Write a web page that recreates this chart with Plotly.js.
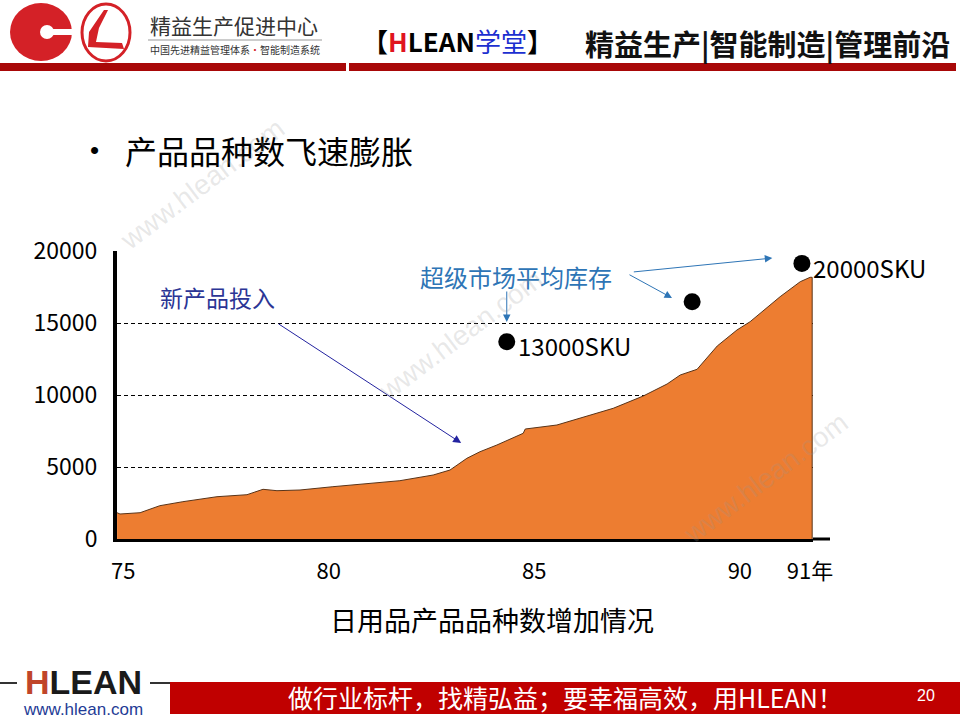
<!DOCTYPE html>
<html>
<head>
<meta charset="utf-8">
<script src="https://cdn.plot.ly/plotly-3.0.1.min.js"></script>
<style>html,body{margin:0;padding:0;background:#fff;}#chart{width:960px;height:720px;}</style>
</head>
<body>
<div id="chart"></div>
<script>
// ---- data ----
const years = [74.85, 74.92, 75.41, 75.89, 76.45, 77.28, 78.01, 78.40, 78.74, 79.30, 80.10, 80.93, 81.73, 82.54, 82.95, 83.36, 83.68, 84.09, 84.73, 84.78, 85.55, 86.92, 87.65, 88.23, 88.55, 88.96, 89.45, 89.93, 90.25, 90.98, 91.47, 91.71, 91.76, 91.76];
const skus  = [1826, 1736, 1826, 2313, 2590, 2937, 3076, 3451, 3354, 3403, 3632, 3868, 4049, 4444, 4792, 5604, 6062, 6528, 7340, 7638, 7916, 9076, 9930, 10764, 11389, 11784, 13403, 14514, 15090, 16826, 17868, 18173, 18173, 0];
const stockYears = [84.33, 88.84, 91.51];
const stockSkus  = [13700, 16480, 19140];
const stockLabels = ["13000SKU", "", "20000SKU"];
const xTickVals = [75, 80, 85, 90, 91];
const xTickText = ["75", "80", "85", "90", "91年"];
const yTickVals = [0, 5000, 10000, 15000, 20000];
const yTickText = ["0", "5000", "10000", "15000", "20000"];

// ---- geometry helpers (pixel -> paper) ----
const L = 117, R = 813, T = 251, B = 539;
const X = x => (x - L) / (R - L);
const Y = y => (B - y) / (B - T);
const P = pts => pts.map((p, i) => (i === 0 ? 'M' : 'L') + X(p[0]).toFixed(4) + ',' + Y(p[1]).toFixed(4)).join(' ') + ' Z';
const XRANGE = [74.848, 91.78];

const CJK = '"Noto Sans CJK SC", "Noto Sans", sans-serif';
const ARIAL = '"Liberation Sans", Arial, sans-serif';

const traces = [
  {
    type: 'scatter', mode: 'lines', x: years, y: skus,
    fill: 'tozeroy', fillcolor: '#ED7D31',
    line: {color: '#5a3418', width: 1}, hoverinfo: 'skip', showlegend: false
  },
  {
    type: 'scatter', mode: 'markers', x: stockYears, y: stockSkus,
    marker: {color: '#000', size: 17}, cliponaxis: false, hoverinfo: 'skip', showlegend: false
  },
  // empty trace that carries the overlaid axis for the last year label
  {type: 'scatter', mode: 'markers', x: [], y: [], xaxis: 'x2', yaxis: 'y', hoverinfo: 'skip', showlegend: false}
];

const annotations = [];
// dot labels
stockLabels.forEach((t, i) => {
  if (!t) return;
  annotations.push({x: stockYears[i], y: stockSkus[i], xref: 'x', yref: 'y', text: t, showarrow: false,
    xanchor: 'left', yanchor: 'middle', xshift: 9, yshift: -4, font: {family: CJK, size: 24, color: '#000'}});
});
// new product arrow
annotations.push({x: 83.22, y: 6670, xref: 'x', yref: 'y', ax: -184, ay: -120, axref: 'pixel', ayref: 'pixel',
  text: '', showarrow: true, arrowhead: 2, arrowsize: 1.6, arrowwidth: 1, arrowcolor: '#2323A0'});
annotations.push({x: X(217), y: Y(297), xref: 'paper', yref: 'paper', text: '新产品投入', showarrow: false,
  xanchor: 'center', yanchor: 'middle', font: {family: CJK, size: 23, color: '#2B3595'}});
// supermarket stock arrows
const stockArrows = [[84.33, 15070, 0, -32], [88.35, 16740, -44, -24], [90.79, 19510, -140, 14]];
stockArrows.forEach(a => annotations.push({x: a[0], y: a[1], xref: 'x', yref: 'y', ax: a[2], ay: a[3], axref: 'pixel', ayref: 'pixel',
  text: '', showarrow: true, arrowhead: 2, arrowsize: 1.5, arrowwidth: 1, arrowcolor: '#2E75B6'}));
annotations.push({x: X(516), y: Y(276), xref: 'paper', yref: 'paper', text: '超级市场平均库存', showarrow: false,
  xanchor: 'center', yanchor: 'middle', font: {family: CJK, size: 24, color: '#2E75B6'}});
// slide title
annotations.push({x: X(88), y: Y(150), xref: 'paper', yref: 'paper', text: '•', showarrow: false,
  xanchor: 'left', yanchor: 'middle', font: {family: ARIAL, size: 26, color: '#000'}});
annotations.push({x: X(123), y: Y(150), xref: 'paper', yref: 'paper', text: '产品品种数飞速膨胀', showarrow: false,
  xanchor: 'left', yanchor: 'middle', font: {family: CJK, size: 32, color: '#000'}});
// x-axis caption
annotations.push({x: X(492), y: Y(619), xref: 'paper', yref: 'paper', text: '日用品产品品种数增加情况', showarrow: false,
  xanchor: 'center', yanchor: 'middle', font: {family: CJK, size: 27, color: '#000'}});
// watermarks
[[202, 185], [460, 335], [765, 478]].forEach(w => annotations.push({x: X(w[0]), y: Y(w[1]), xref: 'paper', yref: 'paper',
  xanchor: 'center', yanchor: 'middle',
  text: 'www.hlean.com', showarrow: false, textangle: -37, font: {family: ARIAL, size: 28, color: 'rgba(150,150,150,0.22)'}}));
// header texts
annotations.push({x: X(148), y: Y(25), xref: 'paper', yref: 'paper', text: '精益生产促进中心', showarrow: false,
  xanchor: 'left', yanchor: 'middle', font: {family: CJK, size: 21, color: '#333'}});
annotations.push({x: X(148), y: Y(49), xref: 'paper', yref: 'paper',
  text: '中国先进精益管理体系<span style="color:#d42127">•</span>智能制造系统', showarrow: false,
  xanchor: 'left', yanchor: 'middle', font: {family: CJK, size: 10, color: '#333'}});
annotations.push({x: X(360), y: Y(40), xref: 'paper', yref: 'paper',
  text: '<b>【<span style="color:#e0141e">H</span>LEAN</b><span style="color:#1c2fd0">学堂</span><b>】</b>', showarrow: false,
  xanchor: 'left', yanchor: 'middle', font: {family: CJK, size: 26, color: '#000'}});
annotations.push({x: X(583), y: Y(43), xref: 'paper', yref: 'paper', text: '<b>精益生产|智能制造|管理前沿</b>', showarrow: false,
  xanchor: 'left', yanchor: 'middle', font: {family: CJK, size: 29, color: '#111'}});
// footer texts
annotations.push({x: X(565), y: Y(697), xref: 'paper', yref: 'paper', text: '做行业标杆，找精弘益；要幸福高效，用HLEAN！', showarrow: false,
  xanchor: 'center', yanchor: 'middle', font: {family: CJK, size: 25, color: '#fff'}});
annotations.push({x: X(926), y: Y(695), xref: 'paper', yref: 'paper', text: '20', showarrow: false,
  xanchor: 'center', yanchor: 'middle', font: {family: ARIAL, size: 16, color: '#fff'}});
annotations.push({x: X(83), y: Y(682), xref: 'paper', yref: 'paper',
  text: '<b><span style="color:#c0452a">H</span>LEAN</b>', showarrow: false,
  xanchor: 'center', yanchor: 'middle', font: {family: ARIAL, size: 34, color: '#1a1a1a'}});
annotations.push({x: X(83), y: Y(709), xref: 'paper', yref: 'paper', text: 'www.hlean.com', showarrow: false,
  xanchor: 'center', yanchor: 'middle', font: {family: ARIAL, size: 17, color: '#1F3C96'}});

const shapes = [
  // x-axis line extension
  {type: 'line', xref: 'paper', yref: 'paper', x0: 1, x1: X(830), y0: 0, y1: 0, line: {color: '#000', width: 3}},
  // header red rule
  {type: 'rect', xref: 'paper', yref: 'paper', x0: X(0), x1: X(346), y0: Y(71), y1: Y(63), fillcolor: '#A80808', line: {width: 0}},
  {type: 'rect', xref: 'paper', yref: 'paper', x0: X(349), x1: X(956), y0: Y(71), y1: Y(63), fillcolor: '#A80808', line: {width: 0}},
  // thin rule under the centre name
  {type: 'line', xref: 'paper', yref: 'paper', x0: X(148), x1: X(322), y0: Y(40), y1: Y(40), line: {color: '#999', width: 1}},
  // logo 1
  {type: 'circle', xref: 'paper', yref: 'paper', x0: X(10), x1: X(72), y0: Y(61), y1: Y(3), fillcolor: '#D42127', line: {width: 0}},
  {type: 'circle', xref: 'paper', yref: 'paper', x0: X(40), x1: X(54), y0: Y(39), y1: Y(25), fillcolor: '#fff', line: {width: 0}},
  {type: 'rect', xref: 'paper', yref: 'paper', x0: X(47), x1: X(74), y0: Y(35), y1: Y(29), fillcolor: '#fff', line: {width: 0}},
  // logo 2
  {type: 'circle', xref: 'paper', yref: 'paper', x0: X(82), x1: X(130), y0: Y(61), y1: Y(4), line: {color: '#D42127', width: 3}},
  {type: 'path', xref: 'paper', yref: 'paper', fillcolor: '#D42127', line: {width: 0},
    path: P([[104, 10], [89, 32], [88, 47], [124, 49], [122, 43], [96, 42], [99, 28], [108, 10]])},
  // footer bar and logo rules
  {type: 'rect', xref: 'paper', yref: 'paper', x0: X(170), x1: X(960), y0: Y(714), y1: Y(682), fillcolor: '#C00000', line: {width: 0}},
  {type: 'line', xref: 'paper', yref: 'paper', x0: X(0), x1: X(17), y0: Y(683), y1: Y(683), line: {color: '#333', width: 2}},
  {type: 'line', xref: 'paper', yref: 'paper', x0: X(150), x1: X(170), y0: Y(683), y1: Y(683), line: {color: '#333', width: 2}}
];

const tickFont = {family: CJK, size: 22, color: '#000'};
const layout = {
  width: 960, height: 720, autosize: false,
  margin: {l: L, r: 960 - R, t: T, b: 720 - B, pad: 0},
  paper_bgcolor: '#fff', plot_bgcolor: 'rgba(0,0,0,0)',
  showlegend: false,
  xaxis: {
    range: XRANGE, tickvals: xTickVals.slice(0, 4), ticktext: xTickText.slice(0, 4),
    showgrid: false, zeroline: false, showline: true, linecolor: '#000', linewidth: 3,
    ticks: '', ticklabelstandoff: 11, tickfont: tickFont
  },
  xaxis2: {
    overlaying: 'x', anchor: 'y', side: 'bottom',
    range: XRANGE, tickvals: xTickVals.slice(4), ticktext: xTickText.slice(4),
    showgrid: false, zeroline: false, showline: false,
    ticks: '', ticklabelstandoff: 17, ticklabelshift: 29, tickfont: tickFont
  },
  yaxis: {
    range: [0, 20000], tickvals: yTickVals, ticktext: yTickText,
    showgrid: true, gridcolor: '#000', gridwidth: 1, griddash: '4px,3px',
    zeroline: false, showline: true, linecolor: '#000', linewidth: 4,
    ticks: '', ticklabelstandoff: 11, tickfont: {family: CJK, size: 23, color: '#000'}
  },
  annotations: annotations,
  shapes: shapes
};

Plotly.newPlot('chart', traces, layout, {displayModeBar: false, staticPlot: true});
</script>
</body>
</html>
